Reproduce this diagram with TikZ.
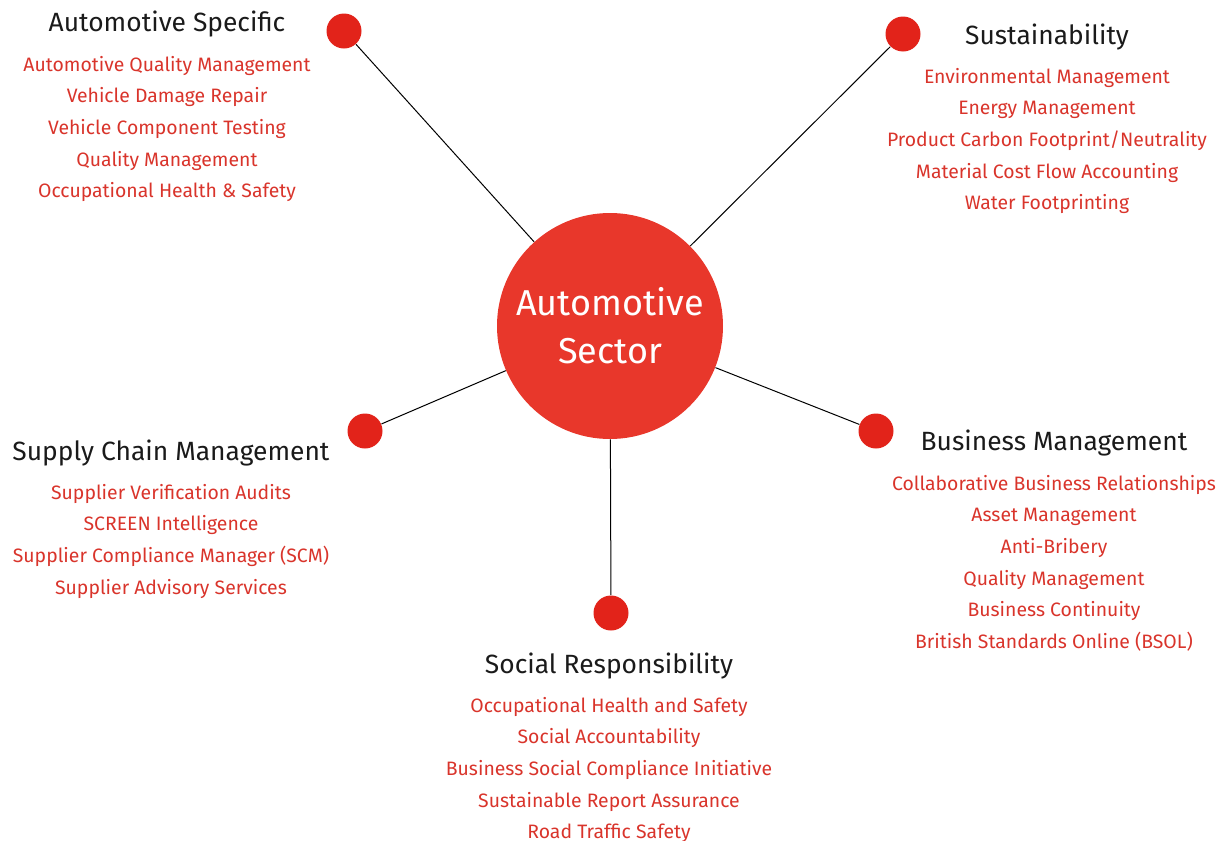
\documentclass[tikz,border=0pt]{standalone}
\usepackage{fontspec}
\setmainfont{Fira Sans}
\definecolor{hubred}{HTML}{E8372B}
\definecolor{dotred}{HTML}{E2231A}
\definecolor{itemred}{HTML}{D9342B}
\definecolor{headgray}{HTML}{1A1A1A}
\begin{document}
\begin{tikzpicture}
[x=0.5pt, y=-0.5pt,
 dot/.style ={circle, fill=dotred, minimum size=17.5pt, inner sep=0pt},
 hub/.style ={circle, fill=hubred, minimum size=113pt, inner sep=0pt, text=white,
              align=center, font=\fontsize{18}{24}\selectfont},
 head/.style ={text=headgray, font=\fontsize{13.2}{15}\selectfont},
 items/.style ={text=itemred, align=center, anchor=north, font=\fontsize{9.7}{15.8}\selectfont}]
\useasboundingbox (0,0) rectangle (1223,841);
% hub and spokes
\node[hub] (hub) at (610,326) {Automotive\\Sector};
\node[dot] (autodot) at (344,31) {};
\node[dot] (sustdot) at (903,34) {};
\node[dot] (supdot) at (365,431) {};
\node[dot] (busdot) at (876,431) {};
\node[dot] (socdot) at (611,613) {};
\foreach \d in {autodot,sustdot,supdot,busdot,socdot}
  \draw[black, line width=0.5pt] (\d) -- (hub);
% Automotive Specific
\node[head] (autohead) at (167,24) {Automotive Specific};
\node[items] (autoitems) at (167,49) {Automotive Quality Management\\Vehicle Damage Repair\\
  Vehicle Component Testing\\Quality Management\\Occupational Health \& Safety};
% Sustainability
\node[head] (susthead) at (1047,37) {Sustainability};
\node[items] (sustitems) at (1047,61) {Environmental Management\\Energy Management\\
  Product Carbon Footprint/Neutrality\\Material Cost Flow Accounting\\Water Footprinting};
% Supply Chain Management
\node[head] (suphead) at (171,453) {Supply Chain Management};
\node[items] (supitems) at (171,477) {Supplier Verification Audits\\SCREEN Intelligence\\
  Supplier Compliance Manager (SCM)\\Supplier Advisory Services};
% Business Management
\node[head] (bushead) at (1054,443) {Business Management};
\node[items] (busitems) at (1054,468) {Collaborative Business Relationships\\Asset Management\\
  Anti-Bribery\\Quality Management\\Business Continuity\\British Standards Online (BSOL)};
% Social Responsibility
\node[head] (sochead) at (609,666) {Social Responsibility};
\node[items] (socitems) at (609,690) {Occupational Health and Safety\\Social Accountability\\
  Business Social Compliance Initiative\\Sustainable Report Assurance\\Road Traffic Safety};
\end{tikzpicture}
\end{document}
